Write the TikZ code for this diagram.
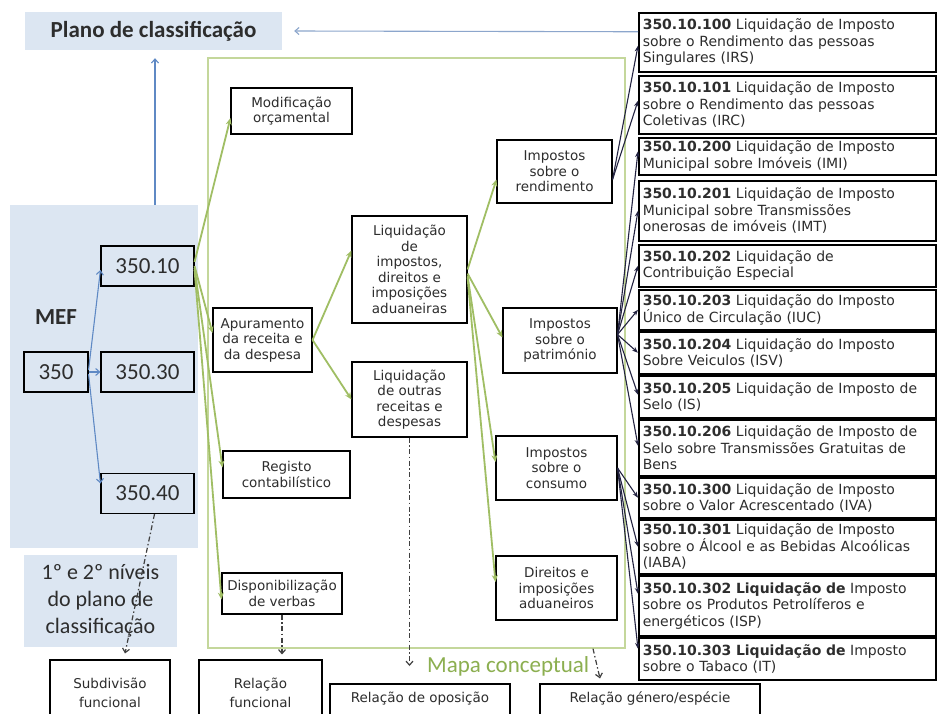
\documentclass[tikz,border=0pt]{standalone}
\usepackage{fontspec}
\setmainfont{Carlito}
\newfontfamily\tah{DejaVu Sans}
\usetikzlibrary{arrows.meta}
\definecolor{lblue}{RGB}{220,230,242}
\definecolor{mblue}{RGB}{95,137,196}
\definecolor{pblue}{RGB}{140,166,204}
\definecolor{mgreen}{RGB}{160,190,100}
\definecolor{lgreen}{RGB}{196,215,155}
\definecolor{tgreen}{RGB}{140,175,80}
\definecolor{dnavy}{RGB}{35,35,65}
\definecolor{tgray}{RGB}{45,45,45}
\begin{document}
\begin{tikzpicture}[x=1pt,y=-1pt,
  cbox/.style={draw=black, line width=1.1pt, fill=white, text=tgray, font=\tah\fontsize{13.5}{15.5}\selectfont, align=center, inner sep=1pt},
  codebox/.style={draw=black, line width=1.1pt, fill=lblue, text=tgray, font=\fontsize{23}{26}\selectfont, inner sep=0pt, minimum width=93pt, minimum height=40pt},
  rbox/.style={draw=black, line width=1.5pt, fill=white, text=tgray, font=\tah\fontsize{14}{16.5}\selectfont, align=left, anchor=north west, text width=289pt, inner xsep=4pt, inner ysep=0pt},
  bbox/.style={draw=black, line width=1.1pt, fill=white, text=tgray, font=\tah\fontsize{13.5}{19}\selectfont, align=center},
  garrow/.style={draw=mgreen, line width=1.8pt, -{Stealth[length=7pt,width=6pt]}},
  narrow/.style={draw=dnavy, line width=1.1pt, -{Stealth[length=6pt,width=4.5pt]}},
  blarrow/.style={draw=mblue, line width=1.1pt, -{Straight Barb[length=4pt,width=7pt]}},
  ddarrow/.style={draw=black!75, line width=1.2pt, dash pattern=on 5pt off 2.5pt on 1.5pt off 2.5pt, -{Straight Barb[length=4pt,width=7pt]}},
]
\clip (0,0) rectangle (937,713);
\fill[white] (0,0) rectangle (937,713);
% backgrounds
\node[fill=lblue, minimum width=257pt, minimum height=38pt, inner sep=0pt, text=tgray, font=\bfseries\fontsize{23}{26}\selectfont] (plano) at (153.5,31) {Plano de classificação};
\node[fill=lblue, minimum width=188pt, minimum height=343pt, inner sep=0pt] (mefbg) at (104,376.5) {};
\node[text=tgray, font=\bfseries\fontsize{23}{26}\selectfont] (mef) at (56,317) {MEF};
\node[fill=lblue, minimum width=153pt, minimum height=92pt, align=center, text=tgray, font=\fontsize{22}{27}\selectfont, inner sep=0pt] (niv) at (100.5,601) {1º e 2º níveis\\do plano de\\classificação};
\node[draw=lgreen, line width=1.3pt, minimum width=417pt, minimum height=590pt, inner sep=0pt] (mapbox) at (416.5,353) {};
\node[font=\fontsize{23}{26}\selectfont, text=tgreen, anchor=west, inner sep=0pt] (mapa) at (427,666) {Mapa conceptual};
% codes
\node[codebox, minimum width=64pt] (n350) at (56,372) {350};
\node[codebox] (n3510) at (147.5,266) {350.10};
\node[codebox] (n3530) at (147.5,372) {350.30};
\node[codebox] (n3540) at (147.5,493.5) {350.40};
% middle
\node[cbox, minimum width=121pt, minimum height=46pt] (mod) at (291.5,111) {Modificação\\orçamental};
\node[cbox, minimum width=99pt, minimum height=64pt] (apur) at (262.5,340) {Apuramento\\da receita e\\da despesa};
\node[cbox, minimum width=127pt, minimum height=47pt] (reg) at (286.5,474.5) {Registo\\contabilístico};
\node[cbox, minimum width=120pt, minimum height=41pt] (disp) at (282,593.5) {Disponibilização\\de verbas};
\node[cbox, minimum width=115pt, minimum height=107pt] (liqi) at (409.5,269.5) {Liquidação\\de\\impostos,\\direitos e\\imposições\\aduaneiras};
\node[cbox, minimum width=115pt, minimum height=75pt] (liqo) at (409.5,399.5) {Liquidação\\de outras\\receitas e\\despesas};
\node[cbox, minimum width=115pt, minimum height=63pt] (rend) at (554.5,171.5) {Impostos\\sobre o\\rendimento};
\node[cbox, minimum width=114pt, minimum height=65pt] (patr) at (560,340.5) {Impostos\\sobre o\\património};
\node[cbox, minimum width=121pt, minimum height=64pt] (cons) at (556.5,468) {Impostos\\sobre o\\consumo};
\node[cbox, minimum width=121pt, minimum height=64pt] (dir) at (556.5,588) {Direitos e\\imposições\\aduaneiros};
% right column
\node[rbox, minimum height=59pt] (r1) at (638,12) {\textbf{350.10.100} Liquidação de Imposto\\sobre o Rendimento  das pessoas\\Singulares  (IRS)};
\node[rbox, minimum height=58pt] (r2) at (638,75) {\textbf{350.10.101} Liquidação de Imposto\\sobre o Rendimento  das pessoas\\Coletivas  (IRC)};
\node[rbox, minimum height=37pt] (r3) at (638,137) {\textbf{350.10.200} Liquidação de Imposto\\Municipal sobre Imóveis  (IMI)};
\node[rbox, minimum height=60pt] (r4) at (638,180) {\textbf{350.10.201} Liquidação de Imposto\\Municipal sobre Transmissões\\onerosas de imóveis  (IMT)};
\node[rbox, minimum height=42pt] (r5) at (638,244) {\textbf{350.10.202} Liquidação de\\Contribuição Especial};
\node[rbox, minimum height=40pt] (r6) at (638,289) {\textbf{350.10.203} Liquidação do Imposto\\Único de Circulação  (IUC)};
\node[rbox, minimum height=42pt] (r7) at (638,331) {\textbf{350.10.204} Liquidação do Imposto\\Sobre Veiculos  (ISV)};
\node[rbox, minimum height=42pt] (r8) at (638,375) {\textbf{350.10.205} Liquidação de Imposto de\\Selo  (IS)};
\node[rbox, minimum height=56pt] (r9) at (638,419) {\textbf{350.10.206} Liquidação de Imposto de\\Selo sobre Transmissões  Gratuitas de\\Bens};
\node[rbox, minimum height=40pt] (r10) at (638,477) {\textbf{350.10.300} Liquidação de Imposto\\sobre o Valor  Acrescentado  (IVA)};
\node[rbox, minimum height=54pt] (r11) at (638,519) {\textbf{350.10.301}  Liquidação de Imposto\\sobre o Álcool e as Bebidas Alcoólicas\\(IABA)};
\node[rbox, minimum height=60pt] (r12) at (638,575) {\textbf{350.10.302 Liquidação de} Imposto\\sobre os Produtos Petrolíferos e\\energéticos  (ISP)};
\node[rbox, minimum height=42pt] (r13) at (638,637) {\textbf{350.10.303  Liquidação de} Imposto\\sobre o Tabaco  (IT)};
% bottom
\node[bbox, minimum width=120pt, minimum height=65pt] (subd) at (110,692.5) {Subdivisão\\funcional};
\node[bbox, minimum width=123pt, minimum height=65pt] (relf) at (260.5,692.5) {Relação\\funcional};
\node[bbox, minimum width=180pt, minimum height=46pt] (relo) at (420,707) {Relação  de oposição\\\mbox{}};
\node[bbox, minimum width=220pt, minimum height=46pt] (relg) at (650,707) {Relação  género/espécie\\\mbox{}};
% blue arrows
\draw[blarrow] ([yshift=2pt]n350.east) -- ([yshift=-4pt]n3510.west);
\draw[blarrow] (n350.east) -- (n3530.west);
\draw[blarrow] ([yshift=-2pt]n350.east) -- ([yshift=10pt]n3540.west);
\draw[blarrow] ([xshift=51pt]mefbg.north) -- ([xshift=1.5pt,yshift=-8pt]plano.south);
\draw[blarrow, draw=pblue] ([yshift=10.5pt]r1.west) -- ([xshift=12pt]plano.east);
% green arrows
\draw[garrow] ([yshift=4pt]n3510.east) -- ([yshift=-7pt]mod.west);
\draw[garrow] (n3510.east) -- ([yshift=7pt]apur.west);
\draw[garrow] ([yshift=-2pt]n3510.east) -- ([yshift=7pt]reg.west);
\draw[garrow] ([yshift=-4pt]n3510.east) -- ([yshift=-6pt]disp.west);
\draw[garrow] (apur.east) -- ([yshift=19pt]liqi.west);
\draw[garrow] (apur.east) -- (liqo.west);
\draw[garrow] (liqi.east) -- ([yshift=-8pt]rend.west);
\draw[garrow] ([yshift=-4pt]liqi.east) -- ([yshift=3pt]patr.west);
\draw[garrow] ([yshift=-6pt]liqi.east) -- ([yshift=6pt]cons.west);
\draw[garrow] ([yshift=-8pt]liqi.east) -- ([yshift=6pt]dir.west);
% navy arrows
\draw[narrow] ([yshift=-8pt]rend.east) -- ([yshift=-3.5pt]r1.west);
\draw[narrow] ([yshift=-8pt]rend.east) -- ([yshift=4pt]r2.west);
\foreach \t/\s in {r3/5,r4/0,r5/0,r6/0,r7/0,r8/2,r9/2}
  \draw[narrow] ([yshift=6pt]patr.east) -- ([yshift=\s pt]\t.west);
\foreach \t/\s in {r10/0,r11/0,r12/12,r13/10}
  \draw[narrow] (cons.east) -- ([yshift=\s pt]\t.west);
% dashed arrows
\draw[ddarrow] ([xshift=7pt]n3540.south) -- ([xshift=15pt,yshift=6pt]subd.north);
\draw[ddarrow] (disp.south) -- ([xshift=21.5pt,yshift=5pt]relf.north);
\draw[ddarrow] (liqo.south) -- (liqo.south |- mapa.west);
\draw[ddarrow] ([xshift=176.5pt]mapbox.south) -- ([xshift=-50pt,yshift=5pt]relg.north);
\end{tikzpicture}
\end{document}
